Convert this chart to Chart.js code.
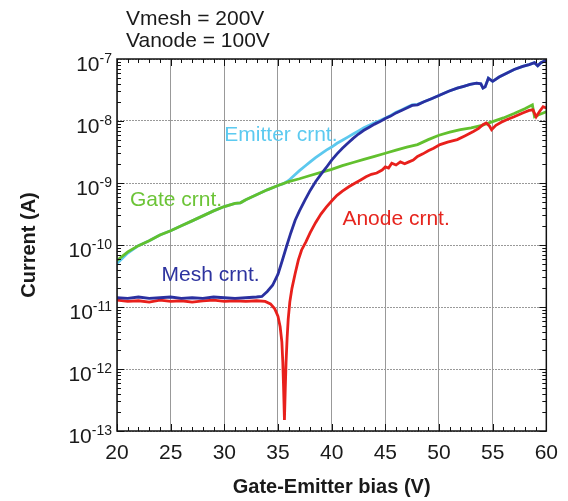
<!DOCTYPE html>
<html>
<head>
<meta charset="utf-8">
<script src="https://cdn.jsdelivr.net/npm/chart.js@4.4.1/dist/chart.umd.min.js"></script>
<style>
  html, body { margin: 0; padding: 0; background: #fff; }
  canvas { display: block; }
</style>
</head>
<body>
<canvas id="chart" width="568" height="501"></canvas>
<script>
// Gate-emitter sweep at Vmesh = 200V, Vanode = 100V. Currents in A.
const meshV = [20, 21, 22, 23, 24, 25, 26, 27, 28, 29, 30, 31, 32, 33, 33.5, 34, 34.5, 35, 35.4, 35.8, 36.2, 36.6, 37, 37.5, 38, 38.5, 39, 39.5, 40, 40.5, 41, 41.5, 42, 42.5, 43, 43.5, 44, 44.5, 45, 45.5, 46, 46.5, 47, 47.5, 48, 48.6, 49.3, 50.1, 50.9, 51.7, 52.3, 52.9, 53.5, 53.9, 54.1, 54.3, 54.6, 55, 55.6, 56.3, 57, 57.8, 58.4, 58.9, 59.2, 59.5, 60];
const meshI = [1.41e-11, 1.38e-11, 1.45e-11, 1.38e-11, 1.41e-11, 1.45e-11, 1.38e-11, 1.41e-11, 1.38e-11, 1.45e-11, 1.41e-11, 1.38e-11, 1.41e-11, 1.45e-11, 1.48e-11, 1.78e-11, 2.24e-11, 3.39e-11, 5.62e-11, 9.55e-11, 1.58e-10, 2.51e-10, 3.55e-10, 5.25e-10, 7.59e-10, 1.05e-9, 1.38e-9, 1.78e-9, 2.34e-9, 2.95e-9, 3.63e-9, 4.37e-9, 5.25e-9, 6.17e-9, 7.08e-9, 7.94e-9, 8.91e-9, 9.77e-9, 1.10e-8, 1.20e-8, 1.35e-8, 1.48e-8, 1.62e-8, 1.78e-8, 1.82e-8, 2.04e-8, 2.29e-8, 2.63e-8, 3.02e-8, 3.39e-8, 3.63e-8, 3.89e-8, 4.07e-8, 3.98e-8, 3.39e-8, 3.55e-8, 4.90e-8, 4.37e-8, 5.13e-8, 5.89e-8, 6.76e-8, 7.59e-8, 8.13e-8, 8.71e-8, 7.76e-8, 8.71e-8, 9.55e-8];

const gateV = [20, 21, 22, 23, 24, 25, 26, 27, 28, 29, 30, 31, 31.5, 32, 33, 34, 35, 36, 37, 38, 39, 40, 41, 42, 43, 44, 45, 46, 47, 48, 49, 50, 51, 52, 53, 54, 55, 56, 57, 58, 58.7, 58.9, 59.3, 60];
const gateI = [5.62e-11, 7.76e-11, 9.77e-11, 1.17e-10, 1.45e-10, 1.70e-10, 2.04e-10, 2.45e-10, 2.95e-10, 3.55e-10, 4.17e-10, 4.68e-10, 4.79e-10, 5.37e-10, 6.46e-10, 7.76e-10, 9.12e-10, 1.05e-9, 1.17e-9, 1.32e-9, 1.48e-9, 1.66e-9, 1.91e-9, 2.14e-9, 2.40e-9, 2.69e-9, 3.02e-9, 3.39e-9, 3.80e-9, 4.17e-9, 5.01e-9, 5.89e-9, 6.61e-9, 7.24e-9, 7.76e-9, 8.51e-9, 9.77e-9, 1.12e-8, 1.32e-8, 1.58e-8, 1.82e-8, 1.17e-8, 1.26e-8, 1.41e-8];

const emitterV = [20, 21, 22, 23, 24, 25, 26, 27, 28, 29, 30, 31, 31.5, 32, 33, 34, 35, 35.5, 36, 36.5, 37, 37.5, 38, 38.5, 39, 39.5, 40, 40.5, 41, 41.5, 42, 42.5, 43, 43.5, 44, 44.5, 45, 45.5, 46, 46.5, 47, 47.5, 48, 48.6, 49.3, 50.1, 50.9, 51.7, 52.3, 52.9, 53.5, 53.9, 54.1, 54.3, 54.6, 55, 55.6, 56.3, 57, 57.8, 58.4, 58.9, 59.2, 59.5, 60];
const emitterI = [5.01e-11, 7.41e-11, 9.77e-11, 1.17e-10, 1.45e-10, 1.70e-10, 2.04e-10, 2.45e-10, 2.95e-10, 3.55e-10, 4.17e-10, 4.68e-10, 4.79e-10, 5.37e-10, 6.46e-10, 7.76e-10, 9.12e-10, 9.77e-10, 1.10e-9, 1.32e-9, 1.58e-9, 1.86e-9, 2.19e-9, 2.57e-9, 2.95e-9, 3.39e-9, 3.80e-9, 4.37e-9, 4.90e-9, 5.50e-9, 6.17e-9, 6.92e-9, 7.76e-9, 8.51e-9, 9.33e-9, 1.02e-8, 1.12e-8, 1.23e-8, 1.38e-8, 1.51e-8, 1.66e-8, 1.82e-8, 1.86e-8, 2.04e-8, 2.29e-8, 2.63e-8, 3.02e-8, 3.39e-8, 3.63e-8, 3.89e-8, 4.07e-8, 3.98e-8, 3.39e-8, 3.55e-8, 4.90e-8, 4.37e-8, 5.13e-8, 5.89e-8, 6.76e-8, 7.59e-8, 8.13e-8, 8.71e-8, 7.76e-8, 8.71e-8, 9.55e-8];

const anodeV = [20, 21, 22, 23, 24, 25, 26, 27, 28, 29, 30, 31, 32, 33, 33.8, 34.3, 34.7, 35, 35.2, 35.36, 35.45, 35.52, 35.6, 35.68, 35.75, 35.85, 35.95, 36.1, 36.3, 36.6, 36.9, 37.2, 37.6, 38, 38.5, 39, 39.5, 40, 40.5, 41, 41.6, 42.2, 42.7, 43.2, 43.7, 44.2, 44.7, 45, 45.3, 45.6, 46, 46.4, 46.8, 47.2, 47.6, 48, 48.5, 49, 49.5, 50.1, 50.8, 51.7, 52.4, 53.2, 53.7, 54.1, 54.4, 54.7, 54.9, 55.3, 55.8, 56.3, 57, 57.8, 58.4, 58.75, 59.05, 59.4, 59.7, 60];
const anodeI = [1.29e-11, 1.23e-11, 1.26e-11, 1.20e-11, 1.29e-11, 1.23e-11, 1.26e-11, 1.20e-11, 1.26e-11, 1.29e-11, 1.23e-11, 1.26e-11, 1.23e-11, 1.26e-11, 1.23e-11, 1.12e-11, 9.33e-12, 7.08e-12, 4.79e-12, 2.75e-12, 1.26e-12, 5.01e-13, 1.51e-13, 5.01e-13, 1.26e-12, 3.16e-12, 6.31e-12, 1.20e-11, 2.0e-11, 3.47e-11, 5.75e-11, 8.32e-11, 1.12e-10, 1.58e-10, 2.29e-10, 3.16e-10, 4.07e-10, 5.13e-10, 6.31e-10, 7.41e-10, 8.71e-10, 1.0e-9, 1.12e-9, 1.26e-9, 1.38e-9, 1.45e-9, 1.62e-9, 1.82e-9, 1.74e-9, 2.09e-9, 1.95e-9, 2.19e-9, 2.04e-9, 2.19e-9, 2.34e-9, 2.69e-9, 2.95e-9, 3.31e-9, 3.63e-9, 4.17e-9, 4.57e-9, 5.01e-9, 5.75e-9, 6.76e-9, 7.59e-9, 8.71e-9, 9.33e-9, 8.32e-9, 7.24e-9, 8.51e-9, 9.55e-9, 1.05e-8, 1.17e-8, 1.35e-8, 1.48e-8, 1.51e-8, 1.17e-8, 1.45e-8, 1.70e-8, 1.62e-8];

const yExponents = [-7, -8, -9, -10, -11, -12, -13];
const headerLines = ['Vmesh = 200V', 'Vanode = 100V'];
// text placed on the plot, anchored at (bias, current) of its left baseline
const curveLabels = [
  { text: 'Emitter crnt.', x: 30.0, y: 4.7e-9, color: '#5ccaf0' },
  { text: 'Gate crnt.', x: 21.2, y: 4.3e-10, color: '#6cc437' },
  { text: 'Mesh crnt.', x: 24.15, y: 2.6e-11, color: '#2d339f' },
  { text: 'Anode crnt.', x: 41.0, y: 2.1e-10, color: '#e6251e' }
];

const FONT = '"Liberation Sans", Arial, Helvetica, sans-serif';
Chart.defaults.font.family = FONT;

const pts = (xs, ys) => xs.map((x, i) => ({ x: x, y: ys[i] }));

const frameAndText = {
  id: 'frameAndText',
  afterDatasetsDraw(chart) {
    const ctx = chart.ctx;
    const a = chart.chartArea;
    const x = chart.scales.x;
    const y = chart.scales.y;
    ctx.save();
    ctx.setLineDash([]);

    // series names inside the plot
    ctx.font = '21px ' + FONT;
    ctx.textAlign = 'left';
    ctx.textBaseline = 'alphabetic';
    curveLabels.forEach(l => {
      ctx.fillStyle = l.color;
      ctx.fillText(l.text, x.getPixelForValue(l.x), y.getPixelForValue(l.y));
    });

    // frame
    ctx.strokeStyle = '#111';
    ctx.lineWidth = 1.5;
    ctx.strokeRect(a.left, a.top, a.right - a.left, a.bottom - a.top);

    // inward ticks on all four sides
    ctx.lineWidth = 1;
    ctx.beginPath();
    for (let v = 20; v <= 60; v++) {
      const px = Math.round(x.getPixelForValue(v)) + 0.5;
      const len = v % 5 === 0 ? 7 : 4;
      ctx.moveTo(px, a.bottom); ctx.lineTo(px, a.bottom - len);
      ctx.moveTo(px, a.top); ctx.lineTo(px, a.top + len);
    }
    for (let e = -13; e < -7; e++) {
      for (let k = 1; k <= 9; k++) {
        const py = Math.round(y.getPixelForValue(k * Math.pow(10, e))) + 0.5;
        const len = k === 1 ? 7 : 4;
        ctx.moveTo(a.left, py); ctx.lineTo(a.left + len, py);
        ctx.moveTo(a.right, py); ctx.lineTo(a.right - len, py);
      }
    }
    ctx.stroke();

    // y tick labels as 10 with a raised exponent
    ctx.fillStyle = '#1a1a1a';
    ctx.textAlign = 'right';
    yExponents.forEach(e => {
      const py = y.getPixelForValue(Math.pow(10, e));
      const sup = String(e);
      ctx.font = '14px ' + FONT;
      const w = ctx.measureText(sup).width;
      const rightEdge = a.left - 5;
      ctx.fillText(sup, rightEdge, py + 4);
      ctx.font = '21px ' + FONT;
      ctx.fillText('10', rightEdge - w, py + 11.5);
    });

    // header
    ctx.textAlign = 'left';
    ctx.font = '21px ' + FONT;
    ctx.fillText(headerLines[0], a.left + 9, 25);
    ctx.fillText(headerLines[1], a.left + 9, 47);
    ctx.restore();
  }
};

const line = (label, data, color, order) => ({
  label: label,
  data: data,
  borderColor: color,
  backgroundColor: color,
  borderWidth: 2.8,
  pointRadius: 0,
  tension: 0,
  order: order
});

new Chart(document.getElementById('chart'), {
  type: 'line',
  data: {
    datasets: [
      line('Mesh crnt.', pts(meshV, meshI), '#2a30a0', 1),
      line('Anode crnt.', pts(anodeV, anodeI), '#e8201c', 2),
      line('Gate crnt.', pts(gateV, gateI), '#62c02e', 3),
      line('Emitter crnt.', pts(emitterV, emitterI), '#5cc8ee', 4)
    ]
  },
  options: {
    responsive: false,
    animation: false,
    layout: { padding: { left: 13, right: 20, top: 59, bottom: 0 } },
    plugins: {
      legend: { display: false },
      tooltip: { enabled: false }
    },
    scales: {
      x: {
        type: 'linear',
        min: 20,
        max: 60,
        afterFit: s => { s.height = 70; },
        ticks: { stepSize: 5, color: '#1a1a1a', font: { size: 21 }, padding: 10 },
        grid: { color: '#999', lineWidth: 1, drawTicks: false },
        border: { display: false },
        title: {
          display: true,
          text: 'Gate-Emitter bias (V)',
          color: '#1a1a1a',
          font: { size: 20, weight: 'bold' },
          padding: { top: 0, bottom: 2 }
        }
      },
      y: {
        type: 'logarithmic',
        min: 1e-13,
        max: 1e-7,
        afterFit: s => { s.width = 104; },
        afterBuildTicks: s => { s.ticks = yExponents.map(e => ({ value: Math.pow(10, e) })); },
        ticks: { display: false },
        grid: { color: '#999', lineWidth: 1, drawTicks: false },
        border: { display: false, dash: [2, 1] },
        title: {
          display: true,
          text: 'Current (A)',
          color: '#1a1a1a',
          font: { size: 20, weight: 'bold' },
          padding: { top: 4, bottom: 4 }
        }
      }
    }
  },
  plugins: [frameAndText]
});
</script>
</body>
</html>
